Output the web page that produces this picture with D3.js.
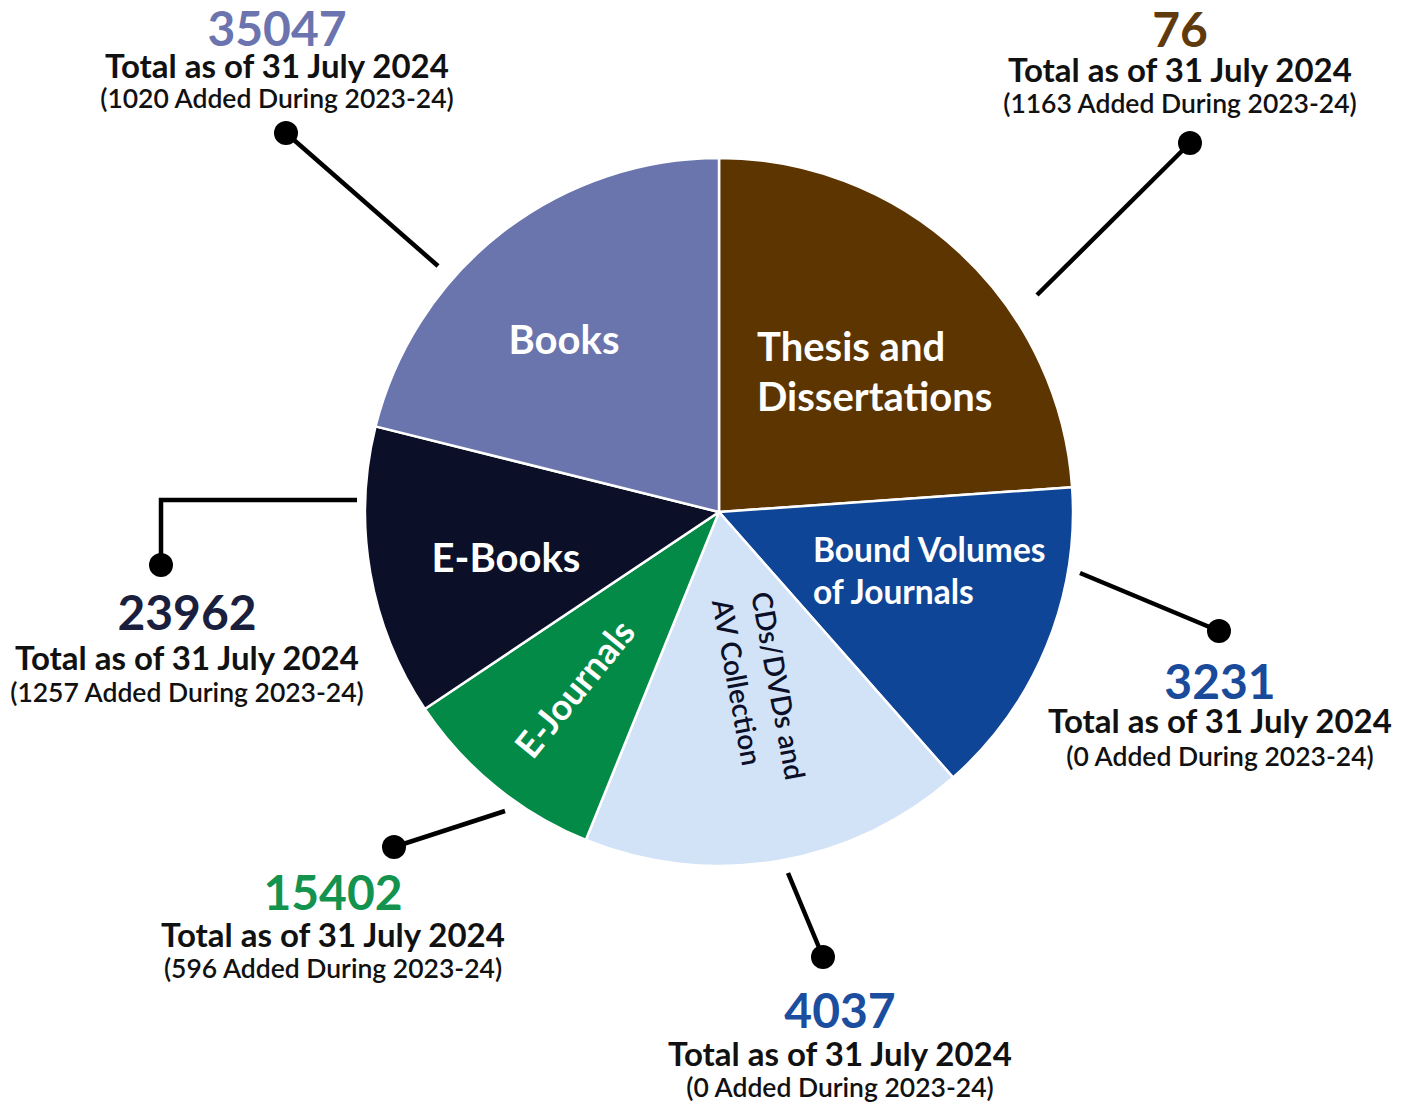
<!DOCTYPE html>
<html>
<head>
<meta charset="utf-8">
<script src="https://cdn.jsdelivr.net/npm/d3@7"></script>
<style>
  html, body { margin: 0; padding: 0; background: #ffffff; }
  svg { display: block; font-family: Lato, "Open Sans", sans-serif; }
</style>
</head>
<body>
<svg id="chart" width="1411" height="1109"></svg>
<script>
// Library holdings, clockwise from 12 o'clock
const categories = [
  "Thesis and Dissertations",
  "Bound Volumes of Journals",
  "CDs/DVDs and AV Collection",
  "E-Journals",
  "E-Books",
  "Books"
];
// Total items held as of 31 July 2024
const totals = [76, 3231, 4037, 15402, 23962, 35047];
// Items added during 2023-24
const added = [1163, 0, 0, 596, 1257, 1020];
// Angular share each wedge takes in the drawing (degrees)
const wedgeShares = [86, 52.6, 63.5, 34.1, 47.8, 76];
// Text drawn inside each wedge
const wedgeLabels = [
  ["Thesis and", "Dissertations"],
  ["Bound Volumes", "of Journals"],
  ["CDs/DVDs and", "AV Collection"],
  ["E-Journals"],
  ["E-Books"],
  ["Books"]
];
const asOfText = "Total as of 31 July 2024";
const periodText = "2023-24";

// ---- styling ----
const wedgeColors = ["#5d3500", "#0f4596", "#d2e2f7", "#038a47", "#0b0f28", "#6a74ad"];
const numberColors = ["#5e3a0c", "#1a4b9b", "#1b4e9e", "#14934f", "#1a1f3d", "#6b74ae"];
const labelInk = ["#ffffff", "#ffffff", "#0b0f28", "#ffffff", "#ffffff", "#ffffff"];

const cx = 719, cy = 512, radius = 354;

// Wedge label placement
const labelLayout = [
  { x: 757, y: 361, rotate: 0, anchor: "start", size: 40, lh: 50 },
  { x: 813, y: 562, rotate: 0, anchor: "start", size: 33.5, lh: 42 },
  { x: 751, y: 594, rotate: 79.5, anchor: "start", size: 28, lh: 40 },
  { x: 575, y: 689, rotate: -50.8, anchor: "middle", size: 36, lh: 0, central: true },
  { x: 506, y: 558, rotate: 0, anchor: "middle", size: 40, lh: 0, central: true },
  { x: 564, y: 340, rotate: 0, anchor: "middle", size: 40, lh: 0, central: true }
];

// Call-out placement: leader polyline (ending in a dot) and text block
const calloutLayout = [
  { path: [[1037, 295], [1190, 143]], tx: 1180, ty: 47, g1: 35, g2: 66 },
  { path: [[1080, 573], [1219, 631]], tx: 1220, ty: 699, g1: 34, g2: 67 },
  { path: [[788, 873], [823, 957]], tx: 840, ty: 1028, g1: 38, g2: 69 },
  { path: [[505, 811], [394, 847]], tx: 333, ty: 910, g1: 37, g2: 68 },
  { path: [[357, 500], [161, 500], [161, 565]], tx: 187, ty: 630, g1: 40, g2: 72 },
  { path: [[438, 266], [286, 133]], tx: 277, ty: 46, g1: 32, g2: 62 }
];

const svg = d3.select("#chart");
const g = svg.append("g").attr("transform", `translate(${cx},${cy})`);

const rows = categories.map((c, i) => ({
  name: c, total: totals[i], added: added[i], share: wedgeShares[i], i
}));

const pie = d3.pie()
  .sort(null)
  .value(d => d.share)
  .startAngle(0)
  .endAngle(2 * Math.PI);

const arc = d3.arc().innerRadius(0).outerRadius(radius);

g.selectAll("path.wedge")
  .data(pie(rows))
  .join("path")
  .attr("class", "wedge")
  .attr("d", arc)
  .attr("fill", d => wedgeColors[d.data.i])
  .attr("stroke", "#ffffff")
  .attr("stroke-width", 2.5)
  .attr("stroke-linejoin", "round");

// Wedge labels
rows.forEach((r, i) => {
  const L = labelLayout[i];
  const t = svg.append("text")
    .attr("transform", `translate(${L.x},${L.y}) rotate(${L.rotate})`)
    .attr("text-anchor", L.anchor)
    .attr("fill", labelInk[i])
    .attr("font-size", L.size)
    .attr("font-weight", i === 2 ? 600 : 700);
  wedgeLabels[i].forEach((line, k) => {
    t.append("tspan")
      .attr("x", 0)
      .attr("y", k * L.lh)
      .attr("dy", L.central ? "0.35em" : null)
      .text(line);
  });
});

// Leader lines and dots
const line = d3.line();
rows.forEach((r, i) => {
  const C = calloutLayout[i];
  svg.append("path")
    .attr("d", line(C.path))
    .attr("fill", "none")
    .attr("stroke", "#000")
    .attr("stroke-width", 4.5);
  const end = C.path[C.path.length - 1];
  svg.append("circle")
    .attr("cx", end[0]).attr("cy", end[1]).attr("r", 12)
    .attr("fill", "#000");
});

// Call-out text blocks: count, date line, additions line
const fmt = d3.format("d");
rows.forEach((r, i) => {
  const C = calloutLayout[i];
  const block = svg.append("g")
    .attr("text-anchor", "middle")
    .attr("transform", `translate(${C.tx},${C.ty})`);
  block.append("text")
    .attr("y", 0)
    .attr("font-size", 48).attr("font-weight", 700)
    .attr("fill", numberColors[i])
    .text(fmt(r.total));
  block.append("text")
    .attr("y", C.g1)
    .attr("font-size", 33).attr("font-weight", 700)
    .attr("fill", "#111")
    .text(asOfText);
  block.append("text")
    .attr("y", C.g2)
    .attr("font-size", 26.5).attr("font-weight", 600)
    .attr("fill", "#111")
    .text(`(${fmt(r.added)} Added During ${periodText})`);
});
</script>
</body>
</html>
